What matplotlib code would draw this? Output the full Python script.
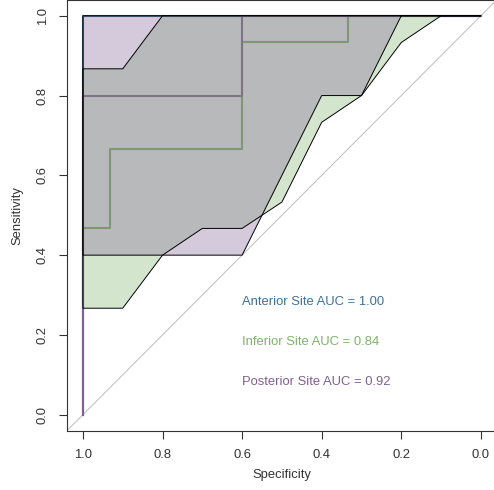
import matplotlib
matplotlib.use('Agg')
import matplotlib.pyplot as plt
import numpy as np

# ROC curves (specificity, sensitivity)
ant_spec = [1.0, 1.0, 0.0]
ant_sens = [0.0, 1.0, 1.0]
inf_spec = [1.0, 1.0, 0.933, 0.933, 0.6, 0.6, 0.333, 0.333, 0.0]
inf_sens = [0.0, 0.467, 0.467, 0.667, 0.667, 0.933, 0.933, 1.0, 1.0]
post_spec = [1.0, 1.0, 0.6, 0.6, 0.0]
post_sens = [0.0, 0.8, 0.8, 1.0, 1.0]

# confidence bands of sensitivity
ci_spec = [1.0, 0.9, 0.8, 0.7, 0.6, 0.5, 0.4, 0.3, 0.2, 0.1, 0.0]
inf_lower = [0.267, 0.267, 0.4, 0.467, 0.467, 0.533, 0.733, 0.8, 0.933, 1.0, 1.0]
inf_upper = [0.867, 0.867, 1.0, 1.0, 1.0, 1.0, 1.0, 1.0, 1.0, 1.0, 1.0]
post_lower = [0.4, 0.4, 0.4, 0.4, 0.4, 0.6, 0.8, 0.8, 1.0, 1.0, 1.0]
post_upper = [1.0] * 11

labels = ["Anterior Site AUC = 1.00", "Inferior Site AUC = 0.84", "Posterior Site AUC = 0.92"]
yticks = [0.0, 0.2, 0.4, 0.6, 0.8, 1.0]
xticks = [1.0, 0.8, 0.6, 0.4, 0.2, 0.0]

c_ant = '#40709a'
c_inf = '#7fb36b'
c_post = '#806092'

plt.rcParams['font.family'] = ['Liberation Sans', 'DejaVu Sans']

fig = plt.figure(figsize=(4.94, 4.90), dpi=100)
ax = fig.add_axes([67 / 494, 59.3 / 490, 429.8 / 494, 430.9 / 490])

ax.axline((1, 0), (0, 1), color='#c4c4c4', lw=0.8, zorder=1)

ax.plot(ant_spec, ant_sens, color=c_ant, lw=1.5, zorder=2)
ax.plot(inf_spec, inf_sens, color=c_inf, lw=1.5, zorder=2)
ax.plot(post_spec, post_sens, color=c_post, lw=1.5, zorder=2)

# bands (polygons with black borders, drawn over the curves)
def band(spec, lower, upper, col):
    xs = list(spec) + list(spec[::-1])
    ys = list(lower) + list(upper[::-1])
    ax.fill(xs, ys, facecolor=col, alpha=0.33, edgecolor='none', zorder=3)
    ax.fill(xs, ys, facecolor='none', edgecolor='black', lw=0.7, zorder=4)

band(ci_spec, inf_lower, inf_upper, c_inf)
band(ci_spec, post_lower, post_upper, c_post)

ax.text(0.6, 0.283, labels[0], color=c_ant, fontsize=9.4, ha='left', va='center')
ax.text(0.6, 0.183, labels[1], color=c_inf, fontsize=9.4, ha='left', va='center')
ax.text(0.6, 0.083, labels[2], color=c_post, fontsize=9.4, ha='left', va='center')

ax.set_xlim(1.04, -0.04)
ax.set_ylim(-0.04, 1.04)
ax.set_xticks(xticks)
ax.set_xticklabels(["%.1f" % v for v in xticks])
ax.set_yticks(yticks)
ax.set_yticklabels(["%.1f" % v for v in yticks], rotation=90, va='center')
ax.tick_params(direction='out', length=6, width=0.8, colors='#333333', labelsize=9.4, pad=7)
ax.tick_params(axis='x', labelcolor='#333333')
ax.tick_params(axis='y', labelcolor='#333333')
for s in ax.spines.values():
    s.set_color('#333333')
    s.set_linewidth(0.8)

ax.set_xlabel("Specificity", fontsize=9.4, color='#333333', labelpad=6)
ax.set_ylabel("Sensitivity", fontsize=9.4, color='#333333', labelpad=10)

fig.savefig('out.png', dpi=100)
